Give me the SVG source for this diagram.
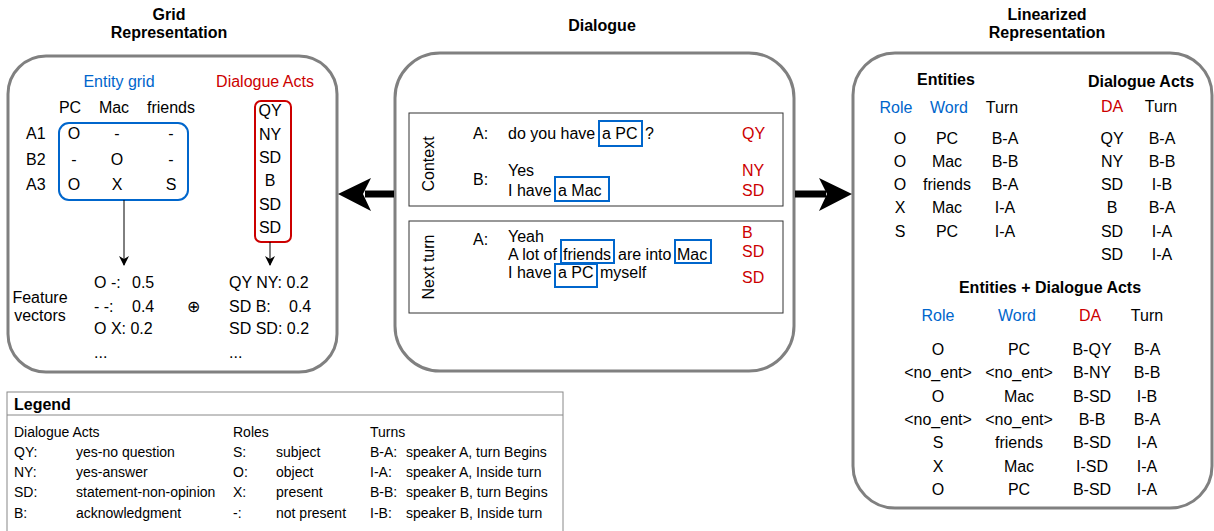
<svg xmlns="http://www.w3.org/2000/svg" width="1214" height="531" viewBox="0 0 1214 531">
<style>
text{font-family:"Liberation Sans",Arial,sans-serif;font-size:16px;fill:#000}
.b{font-weight:bold}
.c{text-anchor:middle}
.blue{fill:#0066CC}
.red{fill:#CC0000}
.panel{fill:#fff;stroke:#808080;stroke-width:3}
.ebox{fill:none;stroke:#0066CC;stroke-width:2}
.rbox{fill:none;stroke:#CC0000;stroke-width:2}
.tbox{fill:none;stroke:#333;stroke-width:1}
text.lg{font-size:14px}
</style>
<defs>
<marker id="ah" markerWidth="10" markerHeight="10" refX="9" refY="5" orient="auto" markerUnits="userSpaceOnUse">
<path d="M0,0 L10,5 L0,10 L3,5 Z" fill="#000"/>
</marker>
</defs>

<g id="titles">
<text class="b c" x="169" y="20">Grid</text>
<text class="b c" x="169" y="38">Representation</text>
<text class="b c" x="602" y="31">Dialogue</text>
<text class="b c" x="1047" y="20">Linearized</text>
<text class="b c" x="1047" y="38">Representation</text>
</g>

<g id="grid-panel">
<rect class="panel" x="8" y="56" width="329" height="316" rx="38"/>
<text class="c blue" x="119" y="87">Entity grid</text>
<text class="c red" x="265" y="87">Dialogue Acts</text>
<text class="c" x="70" y="113">PC</text>
<text class="c" x="114" y="113">Mac</text>
<text class="c" x="171" y="113">friends</text>
<text x="26" y="139">A1</text>
<text x="26" y="165">B2</text>
<text x="26" y="190">A3</text>
<text class="c" x="74" y="139">O</text><text class="c" x="117" y="139">-</text><text class="c" x="171" y="139">-</text>
<text class="c" x="74" y="165">-</text><text class="c" x="117" y="165">O</text><text class="c" x="171" y="165">-</text>
<text class="c" x="74" y="190">O</text><text class="c" x="117" y="190">X</text><text class="c" x="171" y="190">S</text>
<rect class="ebox" x="59" y="123" width="129" height="77" rx="10"/>
<rect class="rbox" x="255" y="101" width="36" height="141" rx="6"/>
<text class="c" x="270" y="116">QY</text>
<text class="c" x="270" y="140">NY</text>
<text class="c" x="270" y="163">SD</text>
<text class="c" x="270" y="186">B</text>
<text class="c" x="270" y="210">SD</text>
<text class="c" x="270" y="233">SD</text>
<text class="c" x="40" y="303">Feature</text>
<text class="c" x="40" y="321">vectors</text>
<text x="94" y="288">O -:</text><text x="132" y="288">0.5</text>
<text x="94" y="312">- -:</text><text x="132" y="312">0.4</text>
<text x="94" y="334">O X: 0.2</text>
<text x="94" y="358">...</text>
<text class="c" x="193" y="312">⊕</text>
<text x="229" y="288">QY NY: 0.2</text>
<text x="229" y="312">SD B:</text><text x="289" y="312">0.4</text>
<text x="229" y="334">SD SD: 0.2</text>
<text x="229" y="358">...</text>
</g>

<g id="dialogue-panel">
<rect class="panel" x="395" y="53" width="399" height="318" rx="45"/>
<rect class="tbox" x="409" y="113" width="374" height="93"/>
<text class="c" transform="translate(434,164) rotate(-90)">Context</text>
<text x="473" y="139">A:</text>
<text x="508" y="139">do you have <tspan x="602">a PC</tspan><tspan x="645">?</tspan></text>
<rect class="ebox" x="599" y="121" width="43" height="25"/>
<text class="red" x="742" y="139">QY</text>
<text x="473" y="185">B:</text>
<text x="508" y="176">Yes</text>
<text x="508" y="196">I have <tspan x="558">a Mac</tspan></text>
<rect class="ebox" x="555" y="177" width="54" height="24"/>
<text class="red" x="742" y="176">NY</text>
<text class="red" x="742" y="196">SD</text>
<rect class="tbox" x="409" y="221" width="374" height="92"/>
<text class="c" transform="translate(434,267) rotate(-90)">Next turn</text>
<text x="473" y="245">A:</text>
<text x="508" y="242">Yeah</text>
<text x="508" y="260">A lot of <tspan x="563">friends</tspan><tspan x="618">are into</tspan><tspan x="677">Mac</tspan></text>
<text x="508" y="278">I have <tspan x="558">a PC</tspan><tspan x="600">myself</tspan></text>
<rect class="ebox" x="561" y="240" width="53" height="23"/>
<rect class="ebox" x="675" y="240" width="36" height="23"/>
<rect class="ebox" x="555" y="264" width="42" height="23"/>
<text class="red" x="742" y="238">B</text>
<text class="red" x="742" y="257">SD</text>
<text class="red" x="742" y="283">SD</text>
</g>

<g id="linear-panel">
<rect class="panel" x="853" y="53" width="359" height="455" rx="42"/>
<text class="b c" x="946" y="85">Entities</text>
<text class="b c" x="1141" y="87">Dialogue Acts</text>
<text class="c blue" x="896" y="113">Role</text>
<text class="c blue" x="949" y="113">Word</text>
<text class="c" x="1002" y="113">Turn</text>
<text class="c red" x="1112" y="112">DA</text>
<text class="c" x="1161" y="112">Turn</text>
<text class="c" x="900" y="144">O</text><text class="c" x="947" y="144">PC</text><text class="c" x="1005" y="144">B-A</text>
<text class="c" x="900" y="167">O</text><text class="c" x="947" y="167">Mac</text><text class="c" x="1005" y="167">B-B</text>
<text class="c" x="900" y="190">O</text><text class="c" x="947" y="190">friends</text><text class="c" x="1005" y="190">B-A</text>
<text class="c" x="900" y="213">X</text><text class="c" x="947" y="213">Mac</text><text class="c" x="1005" y="213">I-A</text>
<text class="c" x="900" y="237">S</text><text class="c" x="947" y="237">PC</text><text class="c" x="1005" y="237">I-A</text>
<text class="c" x="1112" y="144">QY</text><text class="c" x="1162" y="144">B-A</text>
<text class="c" x="1112" y="167">NY</text><text class="c" x="1162" y="167">B-B</text>
<text class="c" x="1112" y="190">SD</text><text class="c" x="1162" y="190">I-B</text>
<text class="c" x="1112" y="213">B</text><text class="c" x="1162" y="213">B-A</text>
<text class="c" x="1112" y="237">SD</text><text class="c" x="1162" y="237">I-A</text>
<text class="c" x="1112" y="260">SD</text><text class="c" x="1162" y="260">I-A</text>
<text class="b c" x="1050" y="293">Entities + Dialogue Acts</text>
<text class="c blue" x="938" y="321">Role</text>
<text class="c blue" x="1017" y="321">Word</text>
<text class="c red" x="1090" y="321">DA</text>
<text class="c" x="1147" y="321">Turn</text>
<text class="c" x="938" y="355">O</text><text class="c" x="1019" y="355">PC</text><text class="c" x="1092" y="355">B-QY</text><text class="c" x="1147" y="355">B-A</text>
<text class="c" x="938" y="378">&lt;no_ent&gt;</text><text class="c" x="1019" y="378">&lt;no_ent&gt;</text><text class="c" x="1092" y="378">B-NY</text><text class="c" x="1147" y="378">B-B</text>
<text class="c" x="938" y="402">O</text><text class="c" x="1019" y="402">Mac</text><text class="c" x="1092" y="402">B-SD</text><text class="c" x="1147" y="402">I-B</text>
<text class="c" x="938" y="425">&lt;no_ent&gt;</text><text class="c" x="1019" y="425">&lt;no_ent&gt;</text><text class="c" x="1092" y="425">B-B</text><text class="c" x="1147" y="425">B-A</text>
<text class="c" x="938" y="448">S</text><text class="c" x="1019" y="448">friends</text><text class="c" x="1092" y="448">B-SD</text><text class="c" x="1147" y="448">I-A</text>
<text class="c" x="938" y="472">X</text><text class="c" x="1019" y="472">Mac</text><text class="c" x="1092" y="472">I-SD</text><text class="c" x="1147" y="472">I-A</text>
<text class="c" x="938" y="495">O</text><text class="c" x="1019" y="495">PC</text><text class="c" x="1092" y="495">B-SD</text><text class="c" x="1147" y="495">I-A</text>
</g>

<g id="legend">
<rect x="7" y="392" width="556" height="150" fill="#fff" stroke="#888" stroke-width="1"/>
<line x1="7" y1="415" x2="563" y2="415" stroke="#888" stroke-width="1"/>
<text class="b" x="14" y="410">Legend</text>
<text class="lg" x="14" y="437">Dialogue Acts</text>
<text class="lg" x="14" y="457">QY:</text><text class="lg" x="76" y="457">yes-no question</text>
<text class="lg" x="14" y="477">NY:</text><text class="lg" x="76" y="477">yes-answer</text>
<text class="lg" x="14" y="497">SD:</text><text class="lg" x="76" y="497">statement-non-opinion</text>
<text class="lg" x="14" y="518">B:</text><text class="lg" x="76" y="518">acknowledgment</text>
<text class="lg" x="233" y="437">Roles</text>
<text class="lg" x="233" y="457">S:</text><text class="lg" x="276" y="457">subject</text>
<text class="lg" x="233" y="477">O:</text><text class="lg" x="276" y="477">object</text>
<text class="lg" x="233" y="497">X:</text><text class="lg" x="276" y="497">present</text>
<text class="lg" x="233" y="518">-:</text><text class="lg" x="276" y="518">not present</text>
<text class="lg" x="370" y="437">Turns</text>
<text class="lg" x="370" y="457">B-A:</text><text class="lg" x="406" y="457">speaker A, turn Begins</text>
<text class="lg" x="370" y="477">I-A:</text><text class="lg" x="406" y="477">speaker A, Inside turn</text>
<text class="lg" x="370" y="497">B-B:</text><text class="lg" x="406" y="497">speaker B, turn Begins</text>
<text class="lg" x="370" y="518">I-B:</text><text class="lg" x="406" y="518">speaker B, Inside turn</text>
</g>

<g id="connectors">
<line x1="124" y1="200" x2="124" y2="265" stroke="#000" stroke-width="1" marker-end="url(#ah)"/>
<line x1="270" y1="242" x2="270" y2="265" stroke="#000" stroke-width="1" marker-end="url(#ah)"/>
<line x1="394" y1="194" x2="365" y2="194" stroke="#000" stroke-width="7"/>
<path d="M338,194 L371,178 L363,194 L371,211 Z" fill="#000"/>
<line x1="795" y1="194" x2="826" y2="194" stroke="#000" stroke-width="7"/>
<path d="M852,194 L819,178 L827,194 L819,211 Z" fill="#000"/>
</g>
</svg>
